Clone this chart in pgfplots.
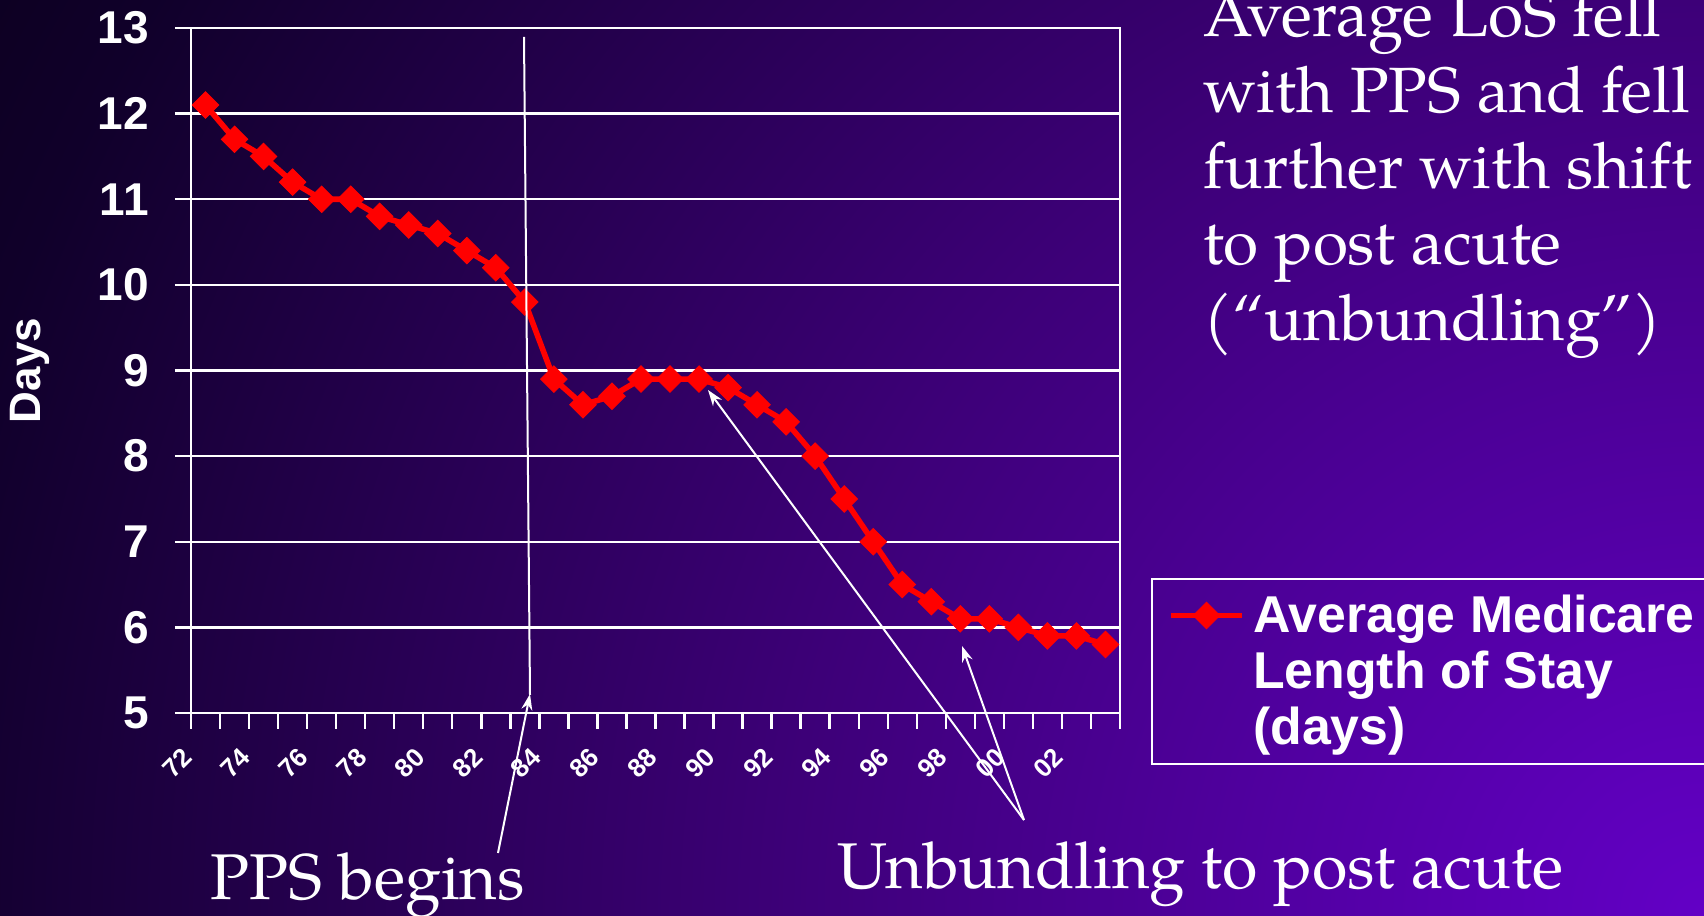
\documentclass[border=0pt]{standalone}
\usepackage{fontspec}
\setmainfont{Liberation Sans}
\newfontfamily\pal{TeX Gyre Pagella}
\usepackage{pgfplots}
\pgfplotsset{compat=1.18}
\usetikzlibrary{arrows.meta}
\definecolor{bgBR}{HTML}{6300C6}
\definecolor{bgTR}{HTML}{3D0078}
\definecolor{bgdark}{HTML}{10002A}
\definecolor{bgedge}{HTML}{0C001F}
\definecolor{lred}{HTML}{FF0000}
\pgfdeclareradialshading{bgrad}{\pgfpoint{0bp}{0bp}}{color(0bp)=(bgBR); color(11.45bp)=(bgTR); color(22.5bp)=(bgdark); color(25bp)=(bgedge); color(50bp)=(bgedge)}

\pgfplotstableread{
i yr v
0 72 12.1
1 73 11.7
2 74 11.5
3 75 11.2
4 76 11.0
5 77 11.0
6 78 10.8
7 79 10.7
8 80 10.6
9 81 10.4
10 82 10.2
11 83 9.8
12 84 8.9
13 85 8.6
14 86 8.7
15 87 8.9
16 88 8.9
17 89 8.9
18 90 8.8
19 91 8.6
20 92 8.4
21 93 8.0
22 94 7.5
23 95 7.0
24 96 6.5
25 97 6.3
26 98 6.1
27 99 6.1
28 00 6.0
29 01 5.9
30 02 5.9
31 03 5.8
}\los

\begin{document}
\begin{tikzpicture}
\useasboundingbox (0,0) rectangle (852pt,458pt);
\clip (0,0) rectangle (852pt,458pt);
\fill[bgedge] (0,0) rectangle (852pt,458pt);
\shade[shading=bgrad] (852pt,0pt) circle (1000pt);

\begin{axis}[
  at={(95.5pt,101.5pt)}, anchor=south west,
  scale only axis, width=464.5pt, height=342.5pt,
  xmin=-0.5, xmax=31.5, ymin=5, ymax=13,
  axis line style={white, line width=1.2pt},
  ytick={5,...,13},
  ymajorgrids, grid style={white, line width=1.2pt},
  xtick={0,2,...,30},
  xticklabels={72,74,76,78,80,82,84,86,88,90,92,94,96,98,00,02},
  minor xtick={-0.5,0.5,...,31.5},
  tick align=outside,
  xtick pos=bottom, ytick pos=left,
  major tick length=8pt, minor tick length=8pt,
  major x tick style={draw=none},
  minor x tick style={white, line width=1.2pt},
  major y tick style={white, line width=1.2pt},
  /pgf/number format/assume math mode=true,
  yticklabel style={font=\bfseries\fontsize{23}{23}\selectfont, text=white, inner sep=0pt, anchor=east, xshift=-13pt},
  xticklabel style={font=\bfseries\fontsize{13}{13}\selectfont, text=white, inner sep=0pt, xshift=-14pt, yshift=-17pt, rotate=45, anchor=center},
  ylabel={Days},
  ylabel style={font=\bfseries\fontsize{22}{22}\selectfont, text=white, at={(axis description cs:-0.1733,0.5)}, anchor=center},
  legend style={draw=white, line width=1.2pt, fill=none, text=white,
    font=\bfseries\fontsize{25.9}{28}\selectfont,
    at={(1.0334,0.197)}, anchor=north west,
    inner xsep=8pt, inner ysep=6pt, column sep=2.2pt,
    cells={align=left, anchor=west}},
  legend image code/.code={\draw[mark repeat=2,mark phase=2,#1] plot coordinates {(0pt,28pt) (17.75pt,28pt) (35.5pt,28pt)}; \path (0pt,-28pt);},
]
\addplot[lred, line width=2.8pt, mark=square*, mark size=4.7pt,
  mark options={rotate=45, solid, fill=lred, draw=lred, line width=0.4pt}]
  table[x=i, y=v] {\los};
\addlegendentry{Average Medicare\\Length of Stay\\(days)}
\end{axis}

\draw[white, line width=1pt] (262pt,439.5pt) -- (265pt,110.5pt);
\draw[white, line width=1pt, -{Stealth[length=8pt,width=5.5pt]}] (249pt,31.5pt) -- (265pt,111pt);
\draw[white, line width=1pt, -{Stealth[length=8pt,width=5.5pt]}] (512pt,48pt) -- (354pt,263pt);
\draw[white, line width=1pt, -{Stealth[length=8pt,width=5.5pt]}] (512pt,48pt) -- (481pt,135pt);

\begin{scope}[every node/.style={anchor=base west, text=white, inner sep=0pt, font=\pal\fontsize{32}{38}\selectfont}]
\node at (601.5pt,439.5pt) {Average LoS fell};
\node at (601.5pt,401.5pt) {with PPS and fell};
\node at (601.5pt,363.5pt) {further with shift};
\node at (601.5pt,325.5pt) {to post acute};
\node at (601.5pt,287.5pt) {(“unbundling”)};
\node[font=\pal\fontsize{32.3}{36}\selectfont] at (105pt,8pt) {PPS begins};
\node[font=\pal\fontsize{32.3}{36}\selectfont] at (418.5pt,13.5pt) {Unbundling to post acute};
\end{scope}
\end{tikzpicture}
\end{document}
